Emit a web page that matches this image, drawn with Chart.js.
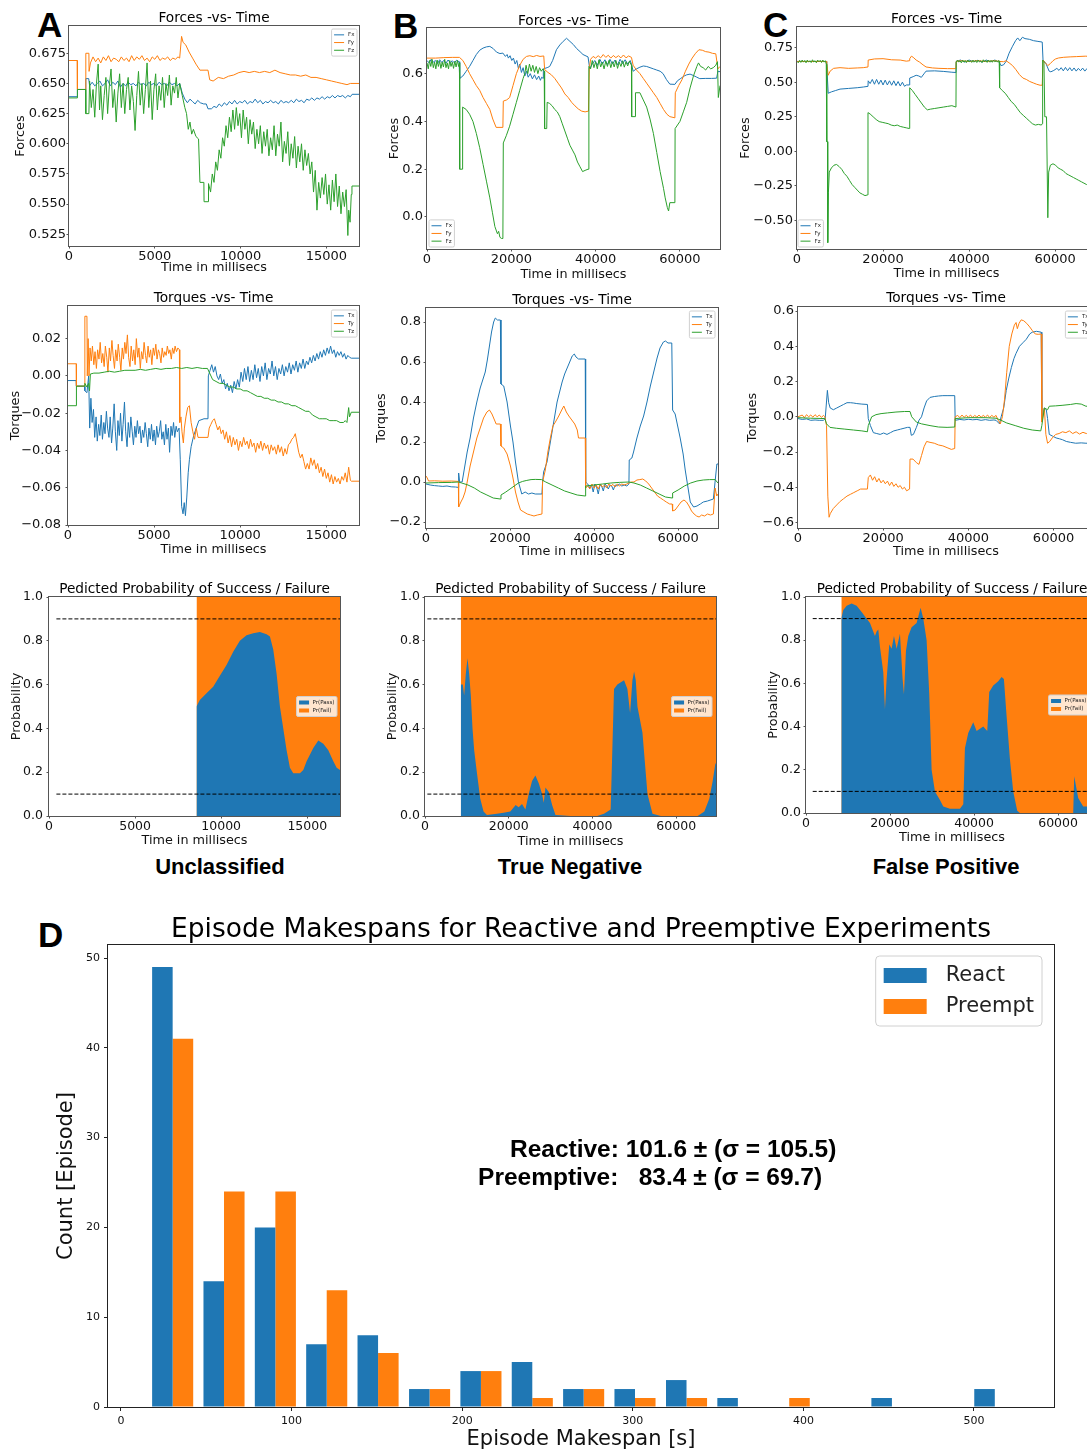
<!DOCTYPE html>
<html lang="en">
<head>
<meta charset="UTF-8">
<title>Forces, torques, predicted probability and episode makespans</title>
<script src="https://cdn.jsdelivr.net/npm/chart.js"></script>
<style>
  html, body { margin: 0; padding: 0; background: #fff; }
  body { width: 1087px; height: 1452px; position: relative; overflow: hidden; }
  canvas { position: absolute; }
  .tag { position: absolute; font-family: "Liberation Sans", Arial, sans-serif; font-weight: bold; color: #000; line-height: 1; white-space: nowrap; }
  .letter { font-size: 35px; }
  .case { font-size: 22px; width: 240px; text-align: center; }
</style>
</head>
<body>
<div class="tag letter" style="left:37px; top:7px;">A</div>
<div class="tag letter" style="left:393px; top:8px;">B</div>
<div class="tag letter" style="left:763px; top:7px;">C</div>
<div class="tag letter" style="left:38px; top:917px;">D</div>
<div class="tag case" style="left:100px; top:856px;">Unclassified</div>
<div class="tag case" style="left:450px; top:856px;">True Negative</div>
<div class="tag case" style="left:826px; top:856px;">False Positive</div>

<script>
Chart.defaults.font.family = '"DejaVu Sans", sans-serif';
Chart.defaults.color = '#000';

const BLUE = '#1f77b4', ORANGE = '#ff7f0e', GREEN = '#2ca02c';

// ---------- tick values ----------
const shortTimeTicks = [0, 5000, 10000, 15000];
const longTimeTicks = [0, 20000, 40000, 60000];
const forceTicksA = [0.525, 0.55, 0.575, 0.6, 0.625, 0.65, 0.675];
const forceTicksB = [0, 0.2, 0.4, 0.6];
const forceTicksC = [-0.5, -0.25, 0, 0.25, 0.5, 0.75];
const torqueTicksA = [-0.08, -0.06, -0.04, -0.02, 0, 0.02];
const torqueTicksB = [-0.2, 0, 0.2, 0.4, 0.6, 0.8];
const torqueTicksC = [-0.6, -0.4, -0.2, 0, 0.2, 0.4, 0.6];
const probTicks = [0, 0.2, 0.4, 0.6, 0.8, 1];
const makespanTicks = [0, 100, 200, 300, 400, 500];
const countTicks = [0, 10, 20, 30, 40, 50];

// ---------- A : forces ----------
const forcesA_Fx = [[0,0.639],[480,0.639],[490,0.645],[970,0.645],[980,0.654],[1150,0.654],[1200,0.648],[1350,0.651],[1500,0.648],[1650,0.650],[1800,0.652],[1950,0.648],[2100,0.650],[2250,0.653],[2400,0.648],[2550,0.651],[2700,0.649],[2850,0.652],[3000,0.647],[3150,0.650],[3300,0.648],[3450,0.651],[3600,0.649],[3750,0.650],[3900,0.648],[4050,0.651],[4200,0.649],[4350,0.650],[4500,0.648],[4650,0.651],[4800,0.649],[4950,0.650],[5100,0.648],[5250,0.651],[5400,0.649],[5550,0.650],[5700,0.648],[5850,0.651],[6000,0.649],[6150,0.650],[6300,0.648],[6450,0.650],[6600,0.642],[6750,0.637],[6900,0.634],[7050,0.637],[7200,0.635],[7350,0.633],[7500,0.636],[7650,0.634],[7850,0.633],[8000,0.633],[8100,0.629],[8300,0.629],[8450,0.631],[8600,0.630],[8750,0.633],[8900,0.631],[9050,0.634],[9200,0.632],[9350,0.635],[9500,0.633],[9650,0.636],[9800,0.633],[9950,0.635],[10100,0.634],[10250,0.636],[10400,0.633],[10550,0.635],[10700,0.634],[10850,0.637],[11000,0.634],[11150,0.636],[11300,0.633],[11450,0.635],[11600,0.634],[11750,0.636],[11900,0.634],[12050,0.635],[12200,0.633],[12350,0.636],[12500,0.634],[12650,0.635],[12800,0.634],[12950,0.636],[13100,0.634],[13250,0.637],[13400,0.635],[13550,0.636],[13700,0.634],[13850,0.637],[14000,0.636],[14150,0.638],[14300,0.636],[14450,0.638],[14600,0.637],[14750,0.639],[14900,0.637],[15050,0.639],[15200,0.638],[15350,0.640],[15500,0.638],[15650,0.640],[15800,0.639],[15950,0.640],[16100,0.638],[16250,0.640],[16400,0.639],[16500,0.641],[16900,0.641]];
const forcesA_Fy = [[0,0.669],[480,0.669],[490,0.645],[970,0.645],[980,0.675],[1160,0.675],[1170,0.660],[1250,0.667],[1400,0.672],[1550,0.668],[1700,0.671],[1850,0.667],[2000,0.672],[2150,0.669],[2300,0.673],[2450,0.668],[2600,0.671],[2750,0.670],[2900,0.668],[3050,0.672],[3200,0.669],[3350,0.671],[3500,0.668],[3650,0.673],[3800,0.669],[3950,0.672],[4100,0.670],[4250,0.673],[4400,0.669],[4550,0.671],[4700,0.668],[4850,0.672],[5000,0.670],[5150,0.673],[5300,0.669],[5450,0.671],[5600,0.670],[5750,0.672],[5900,0.669],[6050,0.671],[6200,0.670],[6350,0.672],[6450,0.671],[6560,0.689],[6650,0.684],[6800,0.682],[7000,0.676],[7200,0.671],[7400,0.666],[7630,0.661],[8100,0.661],[8200,0.653],[8400,0.652],[8700,0.655],[9000,0.654],[9300,0.656],[9600,0.657],[9900,0.659],[10200,0.660],[10500,0.659],[10800,0.660],[11100,0.659],[11400,0.660],[11700,0.659],[12000,0.661],[12300,0.659],[12600,0.658],[12900,0.657],[13200,0.657],[13500,0.656],[13800,0.657],[14100,0.655],[14400,0.655],[14700,0.654],[15000,0.653],[15300,0.652],[15600,0.651],[15900,0.650],[16200,0.649],[16400,0.650],[16900,0.650]];
const forcesA_Fz = [[0,0.638],[480,0.638],[490,0.645],[970,0.645],[980,0.625],[1160,0.625],[1200,0.652],[1300,0.630],[1400,0.645],[1500,0.622],[1600,0.650],[1700,0.666],[1780,0.628],[1850,0.648],[1950,0.620],[2050,0.640],[2150,0.655],[2250,0.625],[2350,0.648],[2450,0.662],[2550,0.630],[2650,0.645],[2750,0.618],[2850,0.642],[2950,0.658],[3050,0.630],[3150,0.650],[3250,0.625],[3350,0.645],[3450,0.655],[3550,0.628],[3650,0.648],[3750,0.635],[3850,0.611],[3950,0.640],[4050,0.660],[4150,0.632],[4250,0.650],[4350,0.625],[4450,0.645],[4550,0.667],[4650,0.630],[4750,0.652],[4850,0.620],[4950,0.645],[5050,0.658],[5150,0.628],[5250,0.648],[5350,0.636],[5450,0.655],[5550,0.630],[5650,0.650],[5750,0.640],[5850,0.657],[5950,0.632],[6050,0.648],[6150,0.642],[6250,0.655],[6350,0.638],[6450,0.650],[6600,0.640],[6750,0.630],[6850,0.625],[6950,0.612],[7050,0.618],[7150,0.608],[7250,0.612],[7400,0.606],[7550,0.604],[7630,0.568],[7860,0.568],[7870,0.552],[8110,0.552],[8130,0.567],[8250,0.560],[8350,0.575],[8450,0.568],[8550,0.585],[8650,0.578],[8750,0.595],[8850,0.588],[8950,0.605],[9050,0.598],[9150,0.615],[9250,0.605],[9350,0.622],[9450,0.610],[9550,0.628],[9650,0.612],[9750,0.630],[9850,0.615],[9950,0.625],[10050,0.605],[10150,0.628],[10250,0.612],[10350,0.622],[10450,0.600],[10550,0.620],[10650,0.608],[10750,0.618],[10850,0.596],[10950,0.612],[11050,0.600],[11150,0.615],[11250,0.592],[11350,0.610],[11450,0.598],[11550,0.612],[11650,0.590],[11750,0.605],[11850,0.595],[11950,0.615],[12050,0.590],[12150,0.608],[12250,0.598],[12350,0.618],[12450,0.585],[12550,0.602],[12650,0.592],[12750,0.610],[12850,0.582],[12950,0.600],[13050,0.588],[13150,0.606],[13250,0.580],[13350,0.598],[13450,0.585],[13550,0.600],[13650,0.578],[13750,0.595],[13850,0.582],[13950,0.592],[14050,0.575],[14150,0.585],[14250,0.560],[14350,0.578],[14450,0.545],[14550,0.568],[14650,0.555],[14750,0.572],[14850,0.558],[14950,0.575],[15050,0.550],[15150,0.566],[15250,0.545],[15350,0.570],[15450,0.552],[15550,0.575],[15650,0.548],[15750,0.565],[15850,0.542],[15950,0.560],[16050,0.548],[16150,0.562],[16250,0.524],[16300,0.545],[16380,0.535],[16450,0.558],[16490,0.565],[16900,0.565]];

// ---------- A : torques ----------
const torquesA_Tx = [[0,-0.0025],[480,-0.0025],[490,-0.0055],[970,-0.0055],[980,-0.008],[1100,-0.009],[1200,0.0],[1260,-0.028],[1330,-0.012],[1400,-0.025],[1480,-0.018],[1550,-0.033],[1630,-0.022],[1700,-0.035],[1780,-0.026],[1850,-0.032],[1930,-0.021],[2000,-0.034],[2080,-0.025],[2150,-0.031],[2230,-0.019],[2300,-0.028],[2380,-0.033],[2450,-0.022],[2530,-0.036],[2600,-0.028],[2680,-0.015],[2750,-0.03],[2830,-0.04],[2900,-0.024],[2980,-0.032],[3050,-0.02],[3130,-0.035],[3200,-0.026],[3280,-0.014],[3350,-0.03],[3430,-0.038],[3500,-0.025],[3580,-0.033],[3650,-0.022],[3730,-0.03],[3800,-0.037],[3880,-0.027],[3950,-0.033],[4030,-0.024],[4100,-0.031],[4180,-0.027],[4250,-0.036],[4330,-0.029],[4400,-0.033],[4480,-0.025],[4550,-0.031],[4630,-0.038],[4700,-0.028],[4780,-0.034],[4850,-0.026],[4930,-0.035],[5000,-0.029],[5080,-0.037],[5150,-0.027],[5230,-0.033],[5300,-0.03],[5380,-0.024],[5450,-0.034],[5530,-0.03],[5600,-0.037],[5680,-0.026],[5750,-0.034],[5830,-0.028],[5900,-0.041],[5980,-0.027],[6050,-0.032],[6130,-0.025],[6200,-0.033],[6280,-0.027],[6350,-0.03],[6450,-0.028],[6520,-0.045],[6600,-0.07],[6680,-0.074],[6750,-0.068],[6820,-0.075],[6900,-0.065],[6980,-0.052],[7050,-0.045],[7150,-0.038],[7300,-0.032],[7450,-0.028],[7600,-0.024],[7900,-0.023],[8130,-0.023],[8150,0.0],[8250,0.003],[8350,0.006],[8450,0.002],[8550,0.005],[8650,0.0],[8750,-0.002],[8850,0.001],[8950,-0.004],[9050,-0.002],[9150,-0.007],[9250,-0.004],[9350,-0.008],[9450,-0.005],[9550,-0.009],[9650,-0.003],[9750,-0.007],[9850,-0.002],[9950,-0.006],[10050,0.002],[10150,-0.003],[10250,0.004],[10350,-0.002],[10450,0.005],[10550,-0.003],[10650,0.003],[10750,-0.002],[10850,0.006],[10950,-0.001],[11050,0.004],[11150,-0.003],[11250,0.005],[11350,0.0],[11450,0.007],[11550,-0.002],[11650,0.004],[11750,0.001],[11850,0.008],[11950,0.0],[12050,0.005],[12150,-0.002],[12250,0.004],[12350,0.001],[12450,0.006],[12550,0.0],[12650,0.005],[12750,0.002],[12850,0.007],[12950,0.001],[13050,0.006],[13150,0.003],[13250,0.008],[13350,0.002],[13450,0.007],[13550,0.004],[13650,0.009],[13750,0.004],[13850,0.008],[13950,0.006],[14050,0.01],[14150,0.007],[14250,0.011],[14350,0.008],[14450,0.012],[14550,0.009],[14650,0.013],[14750,0.01],[14850,0.014],[14950,0.011],[15050,0.015],[15150,0.012],[15250,0.016],[15350,0.012],[15450,0.014],[15550,0.01],[15650,0.013],[15750,0.011],[15850,0.013],[15950,0.01],[16050,0.012],[16150,0.009],[16250,0.011],[16350,0.01],[16450,0.0095],[16900,0.0095]];
const torquesA_Ty = [[0,0.0065],[480,0.0065],[490,-0.0055],[970,-0.0055],[980,0.032],[1100,0.032],[1120,0.0],[1170,0.02],[1220,0.0],[1280,0.015],[1350,0.008],[1420,0.016],[1500,0.006],[1570,0.013],[1650,0.004],[1720,0.014],[1800,0.009],[1870,0.018],[1950,0.007],[2020,0.012],[2100,0.005],[2170,0.016],[2250,0.01],[2320,0.002],[2400,0.015],[2470,0.008],[2550,0.019],[2620,0.011],[2700,0.004],[2770,0.014],[2850,0.008],[2920,0.017],[3000,0.01],[3070,0.003],[3150,0.015],[3220,0.009],[3300,0.018],[3370,0.012],[3450,0.022],[3520,0.01],[3600,0.005],[3670,0.016],[3750,0.008],[3820,0.014],[3900,0.006],[3970,0.02],[4050,0.01],[4120,0.015],[4200,0.004],[4270,0.013],[4350,0.009],[4420,0.018],[4500,0.011],[4570,0.007],[4650,0.016],[4720,0.01],[4800,0.014],[4870,0.006],[4950,0.015],[5020,0.011],[5100,0.017],[5170,0.009],[5250,0.014],[5320,0.012],[5400,0.007],[5470,0.015],[5550,0.01],[5620,0.013],[5700,0.011],[5770,0.016],[5850,0.012],[5920,0.014],[6000,0.009],[6070,0.015],[6150,0.012],[6220,0.016],[6300,0.013],[6380,0.015],[6470,0.014],[6490,-0.025],[6560,-0.022],[6620,-0.03],[6700,-0.036],[6760,-0.028],[6850,-0.022],[6950,-0.017],[7050,-0.016],[7150,-0.025],[7250,-0.03],[7350,-0.034],[7450,-0.028],[7550,-0.033],[8130,-0.033],[8200,-0.028],[8300,-0.026],[8400,-0.024],[8500,-0.023],[8600,-0.026],[8700,-0.029],[8800,-0.027],[8900,-0.031],[9000,-0.029],[9100,-0.034],[9200,-0.03],[9300,-0.036],[9400,-0.032],[9500,-0.038],[9600,-0.033],[9700,-0.037],[9800,-0.034],[9900,-0.04],[10000,-0.035],[10100,-0.038],[10200,-0.033],[10300,-0.037],[10400,-0.035],[10500,-0.039],[10600,-0.034],[10700,-0.038],[10800,-0.036],[10900,-0.041],[11000,-0.036],[11100,-0.039],[11200,-0.035],[11300,-0.04],[11400,-0.036],[11500,-0.039],[11600,-0.037],[11700,-0.042],[11800,-0.037],[11900,-0.04],[12000,-0.038],[12100,-0.042],[12200,-0.037],[12300,-0.041],[12400,-0.038],[12500,-0.043],[12600,-0.039],[12700,-0.042],[12800,-0.037],[12900,-0.036],[13000,-0.034],[13100,-0.033],[13200,-0.031],[13300,-0.036],[13400,-0.041],[13500,-0.044],[13600,-0.042],[13700,-0.046],[13800,-0.05],[13900,-0.047],[14000,-0.05],[14100,-0.044],[14200,-0.048],[14300,-0.045],[14400,-0.05],[14500,-0.047],[14600,-0.052],[14700,-0.049],[14800,-0.054],[14900,-0.05],[15000,-0.055],[15100,-0.052],[15200,-0.057],[15300,-0.053],[15400,-0.058],[15500,-0.054],[15600,-0.057],[15700,-0.055],[15800,-0.058],[15900,-0.054],[16000,-0.056],[16100,-0.052],[16200,-0.057],[16300,-0.049],[16400,-0.056],[16450,-0.0565],[16900,-0.0565]];
const torquesA_Tz = [[0,-0.016],[480,-0.016],[490,-0.0055],[970,-0.0055],[980,-0.004],[1100,-0.006],[1200,-0.004],[1250,-0.008],[1300,0.001],[1500,0.0015],[1800,0.0015],[2100,0.002],[2400,0.0025],[2700,0.002],[3000,0.0025],[3300,0.003],[3600,0.003],[3900,0.003],[4200,0.0035],[4500,0.003],[4800,0.0035],[5100,0.004],[5400,0.0035],[5700,0.004],[6000,0.004],[6300,0.0045],[6600,0.004],[6900,0.0045],[7200,0.004],[7500,0.0045],[7800,0.004],[8100,0.004],[8250,0.001],[8400,-0.002],[8600,-0.003],[8800,-0.004],[9000,-0.004],[9200,-0.005],[9400,-0.006],[9600,-0.006],[9800,-0.007],[10000,-0.007],[10200,-0.008],[10400,-0.008],[10600,-0.009],[10800,-0.01],[11000,-0.011],[11200,-0.011],[11400,-0.012],[11600,-0.012],[11800,-0.013],[12000,-0.013],[12200,-0.014],[12400,-0.014],[12600,-0.015],[12800,-0.015],[13000,-0.016],[13200,-0.016],[13400,-0.017],[13600,-0.018],[13800,-0.019],[14000,-0.019],[14200,-0.021],[14400,-0.022],[14600,-0.023],[14800,-0.023],[15000,-0.023],[15200,-0.024],[15400,-0.024],[15600,-0.024],[15800,-0.025],[16000,-0.025],[16100,-0.024],[16200,-0.025],[16300,-0.017],[16350,-0.022],[16450,-0.0195],[16900,-0.0195]];

// ---------- B : forces ----------
const forcesB_Fx = [[0,0.655],[500,0.645],[1000,0.66],[1500,0.648],[2000,0.655],[2500,0.642],[3000,0.658],[3500,0.647],[4000,0.655],[4500,0.644],[5000,0.657],[5500,0.646],[6000,0.654],[6500,0.645],[7000,0.656],[7600,0.65],[7760,0.58],[8500,0.59],[9300,0.61],[10100,0.63],[10900,0.655],[11700,0.68],[12500,0.698],[13300,0.707],[14100,0.712],[14900,0.714],[15700,0.705],[16500,0.69],[17300,0.684],[18000,0.686],[18600,0.672],[19000,0.68],[19300,0.665],[19700,0.675],[20100,0.655],[20500,0.665],[20900,0.64],[21300,0.655],[21700,0.62],[22000,0.64],[22400,0.605],[22800,0.625],[23200,0.59],[23600,0.61],[24000,0.585],[24500,0.6],[25000,0.578],[25500,0.595],[26000,0.575],[26500,0.59],[26900,0.572],[27200,0.585],[27550,0.58],[27600,0.62],[28500,0.625],[29100,0.63],[29800,0.655],[30700,0.7],[31500,0.72],[32300,0.735],[33100,0.748],[33900,0.735],[34700,0.722],[35500,0.705],[36300,0.692],[37000,0.68],[38200,0.67],[38600,0.62],[39200,0.64],[39800,0.655],[40400,0.635],[41000,0.66],[41600,0.64],[42200,0.658],[42800,0.638],[43400,0.66],[44000,0.64],[44600,0.657],[45200,0.637],[45800,0.66],[46400,0.642],[47000,0.658],[47600,0.64],[48200,0.655],[48500,0.64],[48900,0.61],[49700,0.62],[50500,0.627],[51300,0.632],[52100,0.63],[52900,0.625],[53700,0.62],[54500,0.615],[55300,0.61],[56000,0.6],[56800,0.575],[57600,0.556],[58800,0.555],[59400,0.57],[60200,0.58],[61000,0.59],[61600,0.595],[62400,0.598],[63200,0.592],[64000,0.585],[64700,0.579],[66000,0.58],[67500,0.58],[68700,0.581],[69000,0.61],[69500,0.608]];
const forcesB_Fy = [[0,0.665],[2000,0.665],[4000,0.667],[6000,0.668],[7700,0.668],[8500,0.655],[9300,0.63],[10100,0.6],[10900,0.575],[11700,0.55],[12500,0.53],[13300,0.5],[14100,0.475],[14900,0.45],[15600,0.41],[16400,0.375],[18000,0.375],[18100,0.485],[18900,0.49],[19600,0.5],[20400,0.55],[21200,0.6],[22000,0.635],[22800,0.66],[23600,0.672],[24400,0.675],[25200,0.671],[26000,0.676],[26800,0.672],[27700,0.674],[27900,0.617],[28700,0.605],[29500,0.595],[30300,0.58],[31100,0.56],[31900,0.54],[32700,0.515],[33500,0.5],[34300,0.48],[35100,0.465],[35900,0.452],[36700,0.443],[37500,0.44],[38300,0.443],[38500,0.62],[38800,0.66],[39400,0.672],[40000,0.665],[40600,0.675],[41200,0.666],[41800,0.68],[42400,0.668],[43000,0.677],[43600,0.665],[44200,0.676],[44800,0.667],[45400,0.675],[46000,0.666],[46600,0.678],[47200,0.666],[47800,0.674],[48500,0.668],[48900,0.635],[49700,0.615],[50500,0.6],[51300,0.58],[52100,0.56],[52900,0.54],[53700,0.52],[54500,0.5],[55300,0.475],[56100,0.45],[56900,0.43],[57600,0.42],[58800,0.415],[58900,0.52],[59700,0.55],[60500,0.575],[61300,0.61],[62100,0.64],[62900,0.665],[63700,0.685],[64500,0.7],[65300,0.698],[66100,0.692],[66900,0.69],[67700,0.685],[68500,0.683],[69000,0.62],[69500,0.63]];
const forcesB_Fz = [[0,0.645],[300,0.62],[600,0.655],[900,0.63],[1200,0.66],[1500,0.625],[1800,0.648],[2100,0.62],[2400,0.657],[2700,0.63],[3000,0.652],[3300,0.622],[3600,0.648],[3900,0.628],[4200,0.66],[4500,0.625],[4800,0.645],[5100,0.62],[5400,0.655],[5700,0.63],[6000,0.648],[6300,0.622],[6600,0.652],[6900,0.628],[7200,0.655],[7500,0.63],[7700,0.645],[7760,0.2],[8380,0.2],[8450,0.46],[9300,0.45],[10100,0.43],[10900,0.4],[11700,0.35],[12500,0.29],[13300,0.22],[14100,0.15],[14900,0.08],[15500,0.02],[16100,-0.04],[16700,-0.07],[17000,-0.06],[17300,-0.085],[17700,-0.09],[18000,-0.09],[18100,0.31],[18800,0.34],[19600,0.38],[20400,0.43],[21200,0.48],[22000,0.53],[22800,0.58],[23200,0.6],[23500,0.635],[23900,0.6],[24300,0.64],[24700,0.61],[25100,0.635],[25500,0.605],[25900,0.63],[26300,0.6],[26700,0.625],[27100,0.61],[27500,0.62],[27800,0.61],[27900,0.37],[28400,0.37],[28500,0.48],[29100,0.475],[29700,0.465],[30300,0.45],[30900,0.44],[31500,0.42],[32100,0.39],[32700,0.36],[33300,0.33],[33900,0.3],[34500,0.28],[35100,0.26],[35700,0.23],[36300,0.21],[36900,0.19],[37500,0.195],[38200,0.2],[38400,0.63],[38800,0.62],[39200,0.655],[39600,0.625],[40000,0.65],[40400,0.62],[40800,0.658],[41200,0.628],[41600,0.648],[42000,0.62],[42400,0.652],[42800,0.63],[43200,0.656],[43600,0.625],[44000,0.65],[44400,0.628],[44800,0.655],[45200,0.622],[45600,0.648],[46000,0.63],[46400,0.654],[46800,0.627],[47200,0.65],[47600,0.632],[48000,0.652],[48500,0.635],[48550,0.42],[49400,0.42],[49450,0.52],[50500,0.52],[51300,0.49],[52100,0.46],[52900,0.41],[53700,0.35],[54500,0.27],[55300,0.19],[56100,0.12],[56500,0.08],[57000,0.04],[57300,0.025],[57600,0.06],[58800,0.06],[58850,0.37],[60000,0.4],[60800,0.44],[61600,0.48],[62400,0.54],[63200,0.59],[64000,0.63],[64400,0.645],[64900,0.63],[65500,0.625],[66100,0.615],[66700,0.63],[67300,0.62],[67900,0.625],[68500,0.635],[68900,0.65],[69100,0.5],[69500,0.55]];

// ---------- B : torques ----------
const torquesB_Tx = [[0,-0.01],[1000,-0.015],[2000,-0.018],[3000,-0.02],[4000,-0.022],[5000,-0.02],[6000,-0.024],[7000,-0.025],[7700,-0.027],[7770,0.045],[8000,0.0],[8600,0.0],[9000,0.05],[9800,0.15],[10500,0.22],[11300,0.32],[12100,0.4],[12900,0.47],[13500,0.51],[14100,0.55],[14600,0.61],[15100,0.68],[15600,0.75],[16100,0.8],[16500,0.82],[17000,0.81],[17700,0.81],[17850,0.49],[18500,0.48],[19300,0.4],[20100,0.28],[20700,0.2],[21300,0.1],[22000,0.0],[22800,-0.06],[23600,-0.05],[24400,-0.06],[25200,-0.055],[26000,-0.06],[27600,-0.06],[27750,0.0],[28000,0.05],[28800,0.1],[29600,0.2],[30400,0.3],[31200,0.4],[31800,0.45],[32400,0.5],[33000,0.54],[33600,0.57],[34200,0.6],[34800,0.63],[35300,0.64],[35700,0.625],[36300,0.615],[37900,0.615],[38000,0.0],[38500,-0.01],[39000,-0.03],[39400,-0.015],[39800,-0.05],[40200,-0.01],[40600,-0.025],[41000,-0.06],[41400,-0.015],[41800,-0.02],[42200,-0.045],[42600,-0.01],[43000,-0.02],[43400,-0.035],[43800,-0.015],[44200,-0.02],[44600,-0.04],[45000,-0.015],[45500,-0.02],[46000,-0.01],[46600,-0.02],[47200,-0.015],[47800,-0.02],[48300,-0.01],[48370,0.11],[49000,0.12],[49400,0.15],[50200,0.22],[51000,0.28],[51800,0.33],[52600,0.4],[53400,0.48],[54200,0.55],[55000,0.62],[55700,0.67],[56500,0.7],[57000,0.705],[57600,0.695],[58500,0.695],[58700,0.36],[59300,0.34],[60000,0.27],[60500,0.22],[61200,0.14],[61700,0.06],[62300,-0.02],[62900,-0.1],[63700,-0.125],[64500,-0.12],[65300,-0.11],[66000,-0.1],[67000,-0.095],[68400,-0.085],[68800,0.0],[69230,0.09],[69500,0.09]];
const torquesB_Ty = [[0,0.03],[300,0.02],[600,0.005],[2000,0.006],[4000,0.004],[6000,0.005],[7700,0.003],[7770,-0.125],[8300,-0.1],[8800,-0.08],[9300,-0.05],[9800,0.0],[10500,0.08],[11300,0.15],[12100,0.22],[12900,0.27],[13700,0.32],[14500,0.35],[15100,0.36],[15700,0.34],[16300,0.31],[16700,0.29],[17700,0.29],[17850,0.18],[18500,0.17],[19300,0.14],[20100,0.08],[20700,0.02],[21300,-0.05],[21900,-0.1],[22500,-0.14],[23300,-0.15],[24100,-0.16],[24900,-0.165],[25700,-0.17],[26500,-0.165],[27600,-0.16],[27750,0.0],[28400,0.06],[29000,0.15],[29600,0.22],[30200,0.28],[30800,0.3],[31600,0.33],[32300,0.36],[32800,0.38],[33400,0.35],[34000,0.33],[34700,0.31],[35400,0.29],[36000,0.26],[36300,0.22],[37900,0.22],[38000,-0.03],[38500,-0.02],[39000,-0.035],[39500,-0.01],[40000,-0.03],[40500,-0.015],[41000,-0.035],[41500,-0.01],[42000,-0.025],[42500,-0.015],[43000,-0.03],[43500,-0.01],[44000,-0.02],[44500,-0.012],[45000,-0.025],[45500,-0.01],[46000,-0.02],[46600,-0.01],[47200,-0.015],[47800,-0.01],[48300,-0.005],[48900,0.0],[49500,0.0],[50200,0.01],[50900,0.012],[51600,0.015],[52300,0.005],[53000,-0.01],[53700,-0.03],[54400,-0.05],[55100,-0.07],[55800,-0.08],[56500,-0.09],[57200,-0.1],[58000,-0.11],[58600,-0.11],[58700,-0.145],[59300,-0.14],[60000,-0.12],[60700,-0.1],[61400,-0.09],[62000,-0.1],[62600,-0.12],[63200,-0.145],[63800,-0.16],[64400,-0.17],[65000,-0.175],[65600,-0.165],[66300,-0.17],[67000,-0.16],[67700,-0.165],[68400,-0.16],[68800,-0.03],[69200,-0.07],[69500,-0.06]];
const torquesB_Tz = [[0,-0.005],[3000,-0.003],[6000,-0.002],[7700,0.0],[8500,-0.005],[10000,-0.015],[11500,-0.03],[13000,-0.05],[14500,-0.065],[16000,-0.08],[17700,-0.085],[17850,-0.065],[19000,-0.05],[20000,-0.035],[21000,-0.02],[22000,-0.005],[23000,0.003],[24000,0.008],[25000,0.012],[26000,0.013],[27500,0.012],[28500,0.0],[30000,-0.015],[31500,-0.03],[33000,-0.045],[34500,-0.055],[36000,-0.065],[37900,-0.07],[38000,-0.02],[40000,-0.015],[42000,-0.01],[44000,-0.005],[46000,-0.002],[48300,0.0],[49500,-0.005],[51000,-0.015],[52500,-0.03],[54000,-0.045],[55500,-0.06],[57000,-0.075],[58600,-0.08],[58700,-0.055],[60000,-0.04],[61500,-0.02],[63000,-0.005],[64500,0.005],[66000,0.01],[67500,0.012],[68800,0.012],[69500,-0.005]];

// ---------- C : forces ----------
const forcesC_Fx = [[0,0.65],[6800,0.65],[6900,0.63],[7250,0.42],[8000,0.43],[9000,0.44],[10000,0.45],[12000,0.455],[14000,0.46],[15400,0.465],[16500,0.47],[16550,0.51],[17000,0.49],[17500,0.52],[18000,0.485],[18500,0.52],[19000,0.485],[19500,0.515],[20000,0.48],[20500,0.515],[21000,0.48],[21500,0.51],[22000,0.478],[22500,0.51],[23000,0.475],[23500,0.505],[24000,0.472],[24500,0.5],[25000,0.47],[25400,0.48],[26150,0.48],[26200,0.53],[27000,0.54],[27700,0.55],[28300,0.545],[28900,0.535],[29500,0.56],[30000,0.58],[32000,0.582],[34000,0.578],[36000,0.572],[36950,0.57],[37000,0.65],[38000,0.66],[39000,0.645],[40000,0.66],[41000,0.648],[42000,0.658],[43000,0.645],[44000,0.66],[45000,0.648],[46000,0.66],[47000,0.645],[47400,0.62],[48000,0.625],[48600,0.65],[49300,0.71],[50100,0.76],[50800,0.8],[51300,0.82],[51800,0.8],[52400,0.825],[53000,0.815],[54000,0.81],[55000,0.8],[56000,0.795],[57000,0.79],[57200,0.65],[57800,0.64],[58600,0.58],[59000,0.575],[59700,0.585],[60400,0.6],[60900,0.585],[61400,0.605],[61900,0.582],[62400,0.607],[62900,0.583],[63400,0.605],[63900,0.582],[64400,0.603],[64900,0.58],[65400,0.6],[65900,0.583],[66400,0.602],[66900,0.58],[67400,0.598],[67900,0.582],[68400,0.597],[69000,0.585],[69500,0.59]];
const forcesC_Fy = [[0,0.65],[6800,0.65],[6900,0.64],[7250,0.55],[7700,0.58],[8500,0.6],[10000,0.605],[12000,0.6],[14000,0.603],[15400,0.605],[16500,0.61],[16550,0.66],[18000,0.668],[20000,0.67],[22000,0.662],[24000,0.66],[25400,0.652],[26150,0.655],[26200,0.67],[26600,0.688],[27000,0.68],[27700,0.66],[28500,0.645],[29300,0.625],[30000,0.61],[31500,0.603],[33000,0.6],[35000,0.598],[36950,0.598],[37000,0.65],[38000,0.655],[40000,0.65],[42000,0.655],[44000,0.65],[46000,0.655],[47000,0.65],[48000,0.648],[48600,0.655],[49300,0.64],[50100,0.62],[50900,0.59],[51700,0.555],[52500,0.53],[53300,0.52],[54100,0.505],[54900,0.495],[55700,0.485],[56500,0.478],[57000,0.478],[57200,0.66],[57700,0.64],[58300,0.62],[58900,0.635],[59500,0.655],[60100,0.668],[60800,0.675],[62000,0.68],[63500,0.683],[65000,0.685],[67000,0.688],[69500,0.685]];
const forcesC_Fz = [[0,0.65],[300,0.64],[600,0.658],[900,0.643],[1200,0.66],[1500,0.645],[1800,0.657],[2100,0.64],[2400,0.66],[2700,0.645],[3000,0.655],[3300,0.642],[3600,0.662],[3900,0.646],[4200,0.655],[4500,0.64],[4800,0.66],[5100,0.648],[5400,0.658],[5700,0.642],[6000,0.66],[6300,0.645],[6600,0.655],[6800,0.63],[6900,0.55],[6950,0.07],[7100,0.07],[7150,-0.66],[7300,-0.3],[7500,-0.15],[8000,-0.12],[8600,-0.1],[9200,-0.095],[9800,-0.11],[10400,-0.13],[11000,-0.16],[11600,-0.18],[12200,-0.21],[12800,-0.24],[13400,-0.26],[14000,-0.28],[14600,-0.3],[15200,-0.31],[15800,-0.32],[16400,-0.315],[16500,0.28],[17000,0.27],[17700,0.25],[18400,0.23],[19100,0.215],[19800,0.21],[20500,0.205],[21200,0.2],[21900,0.19],[22600,0.185],[23300,0.19],[24000,0.18],[24700,0.175],[25400,0.17],[26100,0.165],[26200,0.46],[26800,0.44],[27500,0.41],[28200,0.38],[28900,0.35],[29600,0.32],[30300,0.3],[31000,0.305],[32000,0.31],[33000,0.315],[34000,0.32],[35000,0.325],[36000,0.33],[36950,0.32],[37000,0.645],[37300,0.66],[37600,0.645],[37900,0.655],[38200,0.64],[38500,0.66],[38800,0.645],[39100,0.657],[39400,0.642],[39700,0.66],[40000,0.646],[40300,0.655],[40600,0.643],[40900,0.66],[41200,0.645],[41500,0.657],[41800,0.642],[42100,0.66],[42400,0.646],[42700,0.655],[43000,0.642],[43300,0.662],[43600,0.646],[43900,0.657],[44200,0.643],[44500,0.66],[44800,0.645],[45100,0.658],[45400,0.644],[45700,0.66],[46000,0.647],[46300,0.655],[46600,0.645],[46900,0.658],[47000,0.65],[47100,0.46],[47700,0.44],[48400,0.42],[49100,0.39],[49800,0.36],[50500,0.34],[51200,0.31],[51900,0.28],[52600,0.26],[53300,0.24],[54000,0.22],[54700,0.2],[55400,0.19],[56100,0.195],[56800,0.19],[57000,0.2],[57100,0.66],[57400,0.65],[57600,0.25],[58000,0.25],[58300,-0.48],[58500,-0.15],[58900,-0.1],[59500,-0.09],[60100,-0.1],[60700,-0.12],[61300,-0.13],[61900,-0.14],[62500,-0.16],[63100,-0.17],[63700,-0.18],[64300,-0.19],[64900,-0.2],[65500,-0.21],[66100,-0.22],[66700,-0.23],[67300,-0.24],[67900,-0.245],[68500,-0.25],[69500,-0.26]];

// ---------- C : torques ----------
const torquesC_Tx = [[0,-0.01],[1000,-0.015],[2000,-0.012],[3000,-0.02],[4000,-0.018],[5000,-0.02],[6000,-0.02],[6390,-0.01],[6900,0.15],[7200,0.08],[7560,0.05],[8300,0.04],[9100,0.05],[9900,0.06],[10700,0.07],[11500,0.08],[12300,0.08],[13100,0.078],[13800,0.075],[15000,0.072],[16300,0.07],[16500,-0.01],[17000,-0.05],[17700,-0.09],[18500,-0.095],[19300,-0.1],[20100,-0.092],[20900,-0.1],[21700,-0.09],[22500,-0.08],[23300,-0.075],[24100,-0.07],[24900,-0.065],[25700,-0.06],[26300,-0.06],[26600,-0.105],[27100,-0.1],[27800,-0.06],[28400,-0.02],[29000,0.0],[29600,0.05],[30200,0.09],[31000,0.11],[32000,0.115],[33000,0.118],[34000,0.12],[35000,0.12],[36800,0.12],[36900,-0.02],[38000,-0.015],[39000,-0.018],[40000,-0.014],[41000,-0.017],[42000,-0.015],[43000,-0.02],[44000,-0.016],[45000,-0.02],[46000,-0.018],[46500,-0.02],[47300,-0.04],[47700,0.0],[48300,0.05],[48900,0.15],[49500,0.22],[50100,0.28],[50700,0.33],[51200,0.36],[52000,0.4],[52800,0.42],[53600,0.44],[54400,0.47],[55000,0.48],[56000,0.485],[57100,0.48],[57250,-0.01],[57850,0.05],[58300,0.04],[58600,-0.01],[59000,-0.1],[59800,-0.11],[60600,-0.12],[61400,-0.125],[62100,-0.13],[63000,-0.14],[64000,-0.145],[65200,-0.15],[66500,-0.148],[67600,-0.15],[69500,-0.15]];
const torquesC_Ty = [[0,0.0],[1000,0.01],[1500,-0.005],[2000,0.012],[2500,0.0],[3000,0.01],[3500,-0.002],[4000,0.012],[4500,0.0],[5000,0.01],[5500,-0.003],[6000,0.008],[6300,0.0],[6700,-0.05],[7000,-0.45],[7300,-0.57],[7560,-0.55],[8300,-0.52],[9100,-0.5],[9900,-0.48],[10700,-0.465],[11500,-0.45],[12300,-0.44],[13100,-0.43],[13900,-0.42],[14700,-0.41],[15500,-0.41],[16300,-0.41],[16500,-0.345],[17000,-0.33],[17500,-0.36],[18000,-0.34],[18500,-0.37],[19000,-0.35],[19500,-0.375],[20000,-0.36],[20500,-0.38],[21000,-0.365],[21500,-0.39],[22000,-0.37],[22500,-0.395],[23000,-0.38],[23500,-0.4],[24000,-0.39],[24500,-0.41],[25000,-0.4],[25500,-0.42],[26200,-0.41],[26300,-0.24],[27000,-0.24],[27800,-0.26],[28400,-0.27],[29000,-0.22],[29600,-0.17],[30200,-0.14],[31000,-0.145],[32000,-0.15],[33000,-0.16],[34000,-0.165],[35000,-0.175],[36000,-0.185],[36800,-0.18],[36900,0.0],[37500,0.008],[38000,-0.005],[38500,0.01],[39000,-0.003],[39500,0.008],[40000,-0.002],[40500,0.01],[41000,-0.004],[41500,0.008],[42000,-0.002],[42500,0.01],[43000,-0.003],[43500,0.008],[44000,-0.002],[44500,0.01],[45000,-0.004],[45500,0.008],[46000,-0.002],[46500,0.008],[47000,-0.02],[47500,-0.04],[48000,0.0],[48500,0.1],[49000,0.25],[49600,0.4],[50200,0.47],[50800,0.52],[51200,0.535],[51500,0.5],[51900,0.53],[52400,0.55],[53000,0.545],[53700,0.53],[54400,0.51],[55000,0.49],[55700,0.47],[56400,0.468],[57100,0.47],[57250,-0.03],[57600,0.02],[57850,0.05],[58200,-0.1],[58600,-0.15],[59100,-0.14],[59700,-0.12],[60500,-0.1],[61300,-0.095],[62100,-0.085],[62900,-0.09],[63700,-0.08],[64500,-0.095],[65300,-0.085],[66100,-0.098],[66900,-0.088],[67700,-0.095],[68500,-0.09],[69500,-0.095]];
const torquesC_Tz = [[0,-0.005],[3000,-0.008],[6300,-0.01],[6700,-0.04],[7500,-0.06],[9000,-0.065],[11000,-0.07],[13000,-0.075],[15000,-0.08],[16300,-0.085],[16500,-0.05],[17300,0.0],[18300,0.012],[19500,0.018],[21000,0.022],[23000,0.027],[25000,0.03],[26300,0.03],[26700,0.0],[27800,-0.03],[29000,-0.04],[31000,-0.05],[33000,-0.058],[35000,-0.06],[36800,-0.058],[36900,-0.01],[40000,-0.005],[44000,-0.005],[46500,-0.008],[47700,-0.02],[49000,-0.035],[51000,-0.05],[53000,-0.065],[55000,-0.075],[57000,-0.08],[57250,-0.05],[57850,0.05],[58600,0.04],[59000,0.06],[60500,0.062],[62000,0.065],[64000,0.07],[65300,0.075],[66500,0.072],[67600,0.06],[69500,0.06]];

// ---------- predicted Pr(Pass) ----------
const probA_pass = [[8566,0.5],[8760,0.53],[9147,0.56],[9535,0.59],[9923,0.64],[10310,0.69],[10698,0.75],[11085,0.80],[11473,0.825],[11861,0.835],[12248,0.84],[12636,0.83],[12830,0.82],[13023,0.76],[13217,0.65],[13411,0.50],[13605,0.40],[13799,0.30],[13992,0.22],[14186,0.195],[14574,0.195],[14768,0.21],[14961,0.25],[15349,0.31],[15640,0.345],[15930,0.33],[16221,0.30],[16512,0.25],[16706,0.22],[16900,0.21]];
const probB_pass = [[8549,0.6],[9028,0.6],[9348,0.55],[9748,0.65],[10147,0.72],[10547,0.65],[10946,0.55],[11346,0.40],[11745,0.30],[12385,0.2],[13184,0.08],[13983,0.02],[14782,0.005],[17179,0.01],[18777,0.015],[20375,0.02],[21653,0.05],[22372,0.04],[23171,0.055],[23970,0.03],[24769,0.10],[25568,0.16],[26367,0.185],[27166,0.15],[27965,0.10],[28365,0.06],[28764,0.13],[29563,0.11],[30362,0.05],[31161,0.005],[34757,0.0],[41148,0.0],[42746,0.01],[44345,0.03],[45144,0.58],[45943,0.60],[47541,0.62],[48340,0.58],[48979,0.47],[49538,0.62],[49938,0.66],[50337,0.62],[50737,0.50],[51935,0.38],[53134,0.10],[54332,0.01],[56330,0.0],[65118,0.0],[66716,0.02],[67914,0.08],[68713,0.16],[69352,0.24],[69500,0.24]];
const probC_pass = [[8406,0.90],[8882,0.94],[9675,0.96],[10864,0.97],[12054,0.96],[13243,0.93],[14036,0.91],[15226,0.88],[16415,0.82],[16812,0.84],[17208,0.85],[17605,0.77],[18398,0.65],[18794,0.48],[19191,0.62],[19825,0.78],[20380,0.76],[20936,0.82],[21570,0.76],[22363,0.83],[22997,0.62],[23315,0.55],[23790,0.75],[24345,0.82],[25138,0.86],[26328,0.88],[27279,0.95],[27914,0.90],[28707,0.80],[29341,0.55],[29896,0.20],[30689,0.10],[31879,0.06],[32672,0.03],[34258,0.02],[36637,0.02],[37430,0.04],[37826,0.30],[38619,0.37],[39809,0.42],[40602,0.38],[42188,0.40],[43139,0.38],[43615,0.56],[44567,0.59],[45756,0.61],[46549,0.63],[47104,0.62],[47739,0.45],[48532,0.25],[49325,0.10],[50276,0.01],[50911,0.0],[63599,0.0],[63837,0.17],[64788,0.07],[65978,0.03],[66771,0.03],[69500,0.02]];
const probThresholds = [0.9, 0.1];

// ---------- D : makespan histogram ----------
const binCenters = [30.3, 60.4, 90.5, 120.6, 150.7, 180.9, 211.0, 241.1, 271.2, 301.3, 331.5, 361.6, 391.7, 421.8, 451.9, 482.1, 512.2];
const reactCounts = [49, 14, 20, 7, 8, 2, 4, 5, 2, 2, 3, 1, 0, 0, 1, 0, 2];
const preemptCounts = [41, 24, 24, 13, 6, 2, 4, 1, 2, 1, 1, 0, 1, 0, 0, 0, 0];

// ---------- helpers ----------
const decorCfg = new WeakMap();
const pts = arr => arr.map(p => ({ x: p[0], y: p[1] }));
const fmt = (v, d) => v.toFixed(d).replace('-', '\u2212');

function drawLegend(ctx, a, g) {
  ctx.font = g.size + 'px "DejaVu Sans"';
  const tw = Math.max(...g.items.map(it => ctx.measureText(it.label).width));
  const w = g.padX * 2 + g.hLen + g.gap + tw;
  const h = g.padY * 2 + g.rowH * g.items.length;
  let x, y;
  if (g.anchor === 'ur') { x = a.right - g.inset[0] - w; y = a.top + g.inset[1]; }
  else if (g.anchor === 'll') { x = a.left + g.inset[0]; y = a.bottom - g.inset[1] - h; }
  else { x = a.right - g.inset[0] - w; y = (a.top + a.bottom) / 2 - h / 2; }
  ctx.fillStyle = 'rgba(255,255,255,0.8)';
  ctx.strokeStyle = '#d0d0d0';
  ctx.lineWidth = 1;
  ctx.beginPath();
  ctx.roundRect(x, y, w, h, g.radius);
  ctx.fill();
  ctx.stroke();
  g.items.forEach((it, i) => {
    const cy = y + g.padY + g.rowH * (i + 0.5);
    const hx = x + g.padX;
    if (it.patch) {
      ctx.fillStyle = it.color;
      ctx.fillRect(hx, cy - g.patchH / 2, g.hLen, g.patchH);
    } else {
      ctx.strokeStyle = it.color;
      ctx.lineWidth = 1;
      ctx.beginPath(); ctx.moveTo(hx, cy); ctx.lineTo(hx + g.hLen, cy); ctx.stroke();
    }
    ctx.fillStyle = '#222';
    ctx.textAlign = 'left';
    ctx.textBaseline = 'middle';
    ctx.fillText(it.label, hx + g.hLen + g.gap, cy);
  });
}

// frame, title, notes and legend drawn matplotlib-style
Chart.register({
  id: 'decor',
  afterDatasetsDraw(chart) {
    const o = decorCfg.get(chart.canvas);
    if (!o) return;
    const a = chart.chartArea, ctx = chart.ctx;
    ctx.save();
    ctx.strokeStyle = o.frameColor;
    ctx.lineWidth = 1;
    ctx.strokeRect(Math.round(a.left) - 0.5, Math.round(a.top) - 0.5, Math.round(a.right - a.left) + 1, Math.round(a.bottom - a.top) + 1);
    ctx.restore();
  },
  afterDraw(chart) {
    const o = decorCfg.get(chart.canvas);
    if (!o) return;
    const a = chart.chartArea, ctx = chart.ctx;
    ctx.save();
    ctx.fillStyle = '#000';
    ctx.textAlign = 'center';
    ctx.textBaseline = 'middle';
    ctx.font = o.titleSize + 'px "DejaVu Sans"';
    ctx.fillText(o.title, (a.left + a.right) / 2, a.top - o.titleGap);
    (o.notes || []).forEach(n => {
      ctx.font = n.f;
      ctx.textAlign = 'left';
      ctx.fillText(n.text, chart.scales.x.getPixelForValue(n.x), chart.scales.y.getPixelForValue(n.y));
    });
    if (o.legend) drawLegend(ctx, a, o.legend);
    ctx.restore();
  }
});

function addCanvas(left, top, width, height) {
  const c = document.createElement('canvas');
  c.width = width; c.height = height;
  c.style.left = left + 'px'; c.style.top = top + 'px';
  c.style.width = width + 'px'; c.style.height = height + 'px';
  document.body.appendChild(c);
  return c;
}

const smallLegend = (anchor, inset, labels) => ({
  anchor, inset, size: 5.5, hLen: 10, gap: 4, padX: 2.5, padY: 2, rowH: 7.7, patchH: 4, radius: 1.5,
  items: labels.map((l, i) => ({ label: l, color: [BLUE, ORANGE, GREEN][i] }))
});
const probLegend = inset => ({
  anchor: 'cr', inset, size: 5.5, hLen: 10, gap: 3.5, padX: 2.5, padY: 2, rowH: 8, patchH: 4, radius: 1.5,
  items: [{ label: 'Pr(Pass)', color: BLUE, patch: true }, { label: 'Pr(Fail)', color: ORANGE, patch: true }]
});

function panel(p) {
  const [L, T, R, B] = p.plot;
  const left = L - 68, top = T - 28, right = R + 12, bottom = B + 36;
  const canvas = addCanvas(left, top, right - left, bottom - top);
  const lh = 12.8 * 1.2;
  decorCfg.set(canvas, { frameColor: '#555', title: p.title, titleSize: 13.7, titleGap: p.titleGap, legend: p.legend });
  new Chart(canvas, {
    type: 'line',
    data: { datasets: p.datasets },
    options: {
      responsive: false, animation: false, devicePixelRatio: 1,
      layout: { padding: { left: 0, top: T - top, right: right - R, bottom: 0 } },
      elements: { point: { radius: 0 }, line: { borderWidth: 1, tension: 0 } },
      plugins: { legend: { display: false }, tooltip: { enabled: false } },
      scales: {
        x: {
          type: 'linear', min: 0, max: p.xMax, bounds: 'data',
          afterBuildTicks: s => { s.ticks = p.xTicks.map(v => ({ value: v })); },
          afterFit: s => { s.height = bottom - B; },
          ticks: { autoSkip: false, maxRotation: 0, minRotation: 0, padding: 0.5, font: { size: p.tickSize }, color: '#111', callback: v => String(v) },
          grid: { drawOnChartArea: false, drawTicks: true, tickLength: 2.5, color: '#555' }, border: { display: false },
          title: { display: true, text: 'Time in millisecs', font: { size: 12.8 }, color: '#111', padding: { top: 0, bottom: Math.max(0, bottom - p.xTitleY - lh / 2) } }
        },
        y: {
          type: 'linear', min: p.yRange[0], max: p.yRange[1], bounds: 'data',
          afterBuildTicks: s => { s.ticks = p.yTicks.map(v => ({ value: v })); },
          afterFit: s => { s.width = L - left; },
          ticks: { autoSkip: false, padding: Math.max(0.5, p.yPad - 2.5), font: { size: p.tickSize }, color: '#111', callback: v => fmt(v, p.digits) },
          grid: { drawOnChartArea: false, drawTicks: true, tickLength: 2.5, color: '#555' }, border: { display: false },
          title: { display: true, text: p.yTitle, font: { size: 12.8 }, color: '#111', padding: { top: Math.max(0, p.yTitleX - left - lh / 2), bottom: 0 } }
        }
      }
    }
  });
}

const lineSets = (a, b, c, names) => [
  { label: names[0], data: pts(a), borderColor: BLUE, order: 3 },
  { label: names[1], data: pts(b), borderColor: ORANGE, order: 2 },
  { label: names[2], data: pts(c), borderColor: GREEN, order: 1 }
];
const probSets = (pass, xStart, xEnd, dashStart) => [
  ...probThresholds.map(t => ({ data: [{ x: dashStart, y: t }, { x: xEnd, y: t }], borderColor: '#000', borderWidth: 1, borderDash: [4, 2], order: 0 })),
  { label: 'Pr(Pass)', data: pts(pass), fill: 'origin', backgroundColor: BLUE, borderWidth: 0, order: 1 },
  { label: 'Pr(Fail)', data: [{ x: xStart, y: 1 }, { x: xEnd, y: 1 }], fill: 'origin', backgroundColor: ORANGE, borderWidth: 0, order: 2 }
];
const F = ['Fx', 'Fy', 'Fz'], TQ = ['Tx', 'Ty', 'Tz'];

// row 1 : forces
panel({ plot: [69, 26, 359, 246], xMax: 16900, xTicks: shortTimeTicks, yRange: [0.5153, 0.6976], yTicks: forceTicksA, digits: 3,
  title: 'Forces -vs- Time', titleGap: 7.5, yTitle: 'Forces', yTitleX: 20.5, xTitleY: 268, yPad: 3, tickSize: 13,
  legend: smallLegend('ur', [2, 3], F), datasets: lineSets(forcesA_Fx, forcesA_Fy, forcesA_Fz, F) });
panel({ plot: [427, 28, 720, 249], xMax: 69500, xTicks: longTimeTicks, yRange: [-0.134, 0.791], yTicks: forceTicksB, digits: 1,
  title: 'Forces -vs- Time', titleGap: 6.5, yTitle: 'Forces', yTitleX: 395, xTitleY: 275, yPad: 4, tickSize: 13,
  legend: smallLegend('ll', [2, 2], F), datasets: lineSets(forcesB_Fx, forcesB_Fy, forcesB_Fz, F) });
panel({ plot: [797, 27, 1096, 249], xMax: 69500, xTicks: longTimeTicks, yRange: [-0.706, 0.899], yTicks: forceTicksC, digits: 2,
  title: 'Forces -vs- Time', titleGap: 7.5, yTitle: 'Forces', yTitleX: 745.5, xTitleY: 274, yPad: 4, tickSize: 13,
  legend: smallLegend('ll', [1, 2], F), datasets: lineSets(forcesC_Fx, forcesC_Fy, forcesC_Fz, F) });

// row 2 : torques
panel({ plot: [68, 306, 359, 525], xMax: 16900, xTicks: shortTimeTicks, yRange: [-0.08, 0.0375], yTicks: torqueTicksA, digits: 2,
  title: 'Torques -vs- Time', titleGap: 7.5, yTitle: 'Torques', yTitleX: 15.5, xTitleY: 550, yPad: 7, tickSize: 13,
  legend: smallLegend('ur', [2, 4], TQ), datasets: lineSets(torquesA_Tx, torquesA_Ty, torquesA_Tz, TQ) });
panel({ plot: [426, 308, 718, 528], xMax: 69500, xTicks: longTimeTicks, yRange: [-0.23, 0.87], yTicks: torqueTicksB, digits: 1,
  title: 'Torques -vs- Time', titleGap: 7.5, yTitle: 'Torques', yTitleX: 382, xTitleY: 552, yPad: 5, tickSize: 13,
  legend: smallLegend('ur', [3, 3], TQ), datasets: lineSets(torquesB_Tx, torquesB_Ty, torquesB_Tz, TQ) });
panel({ plot: [798, 307, 1094, 528], xMax: 69500, xTicks: longTimeTicks, yRange: [-0.631, 0.623], yTicks: torqueTicksC, digits: 1,
  title: 'Torques -vs- Time', titleGap: 8.5, yTitle: 'Torques', yTitleX: 752.5, xTitleY: 552, yPad: 4, tickSize: 13,
  legend: smallLegend('ur', [3, 4], TQ), datasets: lineSets(torquesC_Tx, torquesC_Ty, torquesC_Tz, TQ) });

// row 3 : predicted probability
const probTitle = 'Pedicted Probability of Success / Failure';
panel({ plot: [49, 597, 340, 816], xMax: 16900, xTicks: shortTimeTicks, yRange: [0, 1], yTicks: probTicks, digits: 1,
  title: probTitle, titleGap: 8, yTitle: 'Probability', yTitleX: 17, xTitleY: 841, yPad: 6, tickSize: 12.5,
  legend: probLegend([3]), datasets: probSets(probA_pass, 8566, 16900, 430) });
panel({ plot: [425, 597, 716, 816], xMax: 69500, xTicks: longTimeTicks, yRange: [0, 1], yTicks: probTicks, digits: 1,
  title: probTitle, titleGap: 7.5, yTitle: 'Probability', yTitleX: 393, xTitleY: 841.5, yPad: 5, tickSize: 12.5,
  legend: probLegend([4]), datasets: probSets(probB_pass, 8549, 69500, 560) });
panel({ plot: [806, 597, 1098, 813], xMax: 69500, xTicks: longTimeTicks, yRange: [0, 1], yTicks: probTicks, digits: 1,
  title: probTitle, titleGap: 7.5, yTitle: 'Probability', yTitleX: 773.5, xTitleY: 837.5, yPad: 5, tickSize: 12.5,
  legend: probLegend([9]), datasets: probSets(probC_pass, 8406, 69500, 1600) });

// D : histogram of episode makespans
(function () {
  const L = 108, T = 945, R = 1054, B = 1407;
  const canvas = addCanvas(0, 900, 1087, 552);
  decorCfg.set(canvas, {
    frameColor: '#222', title: 'Episode Makespans for Reactive and Preemptive Experiments', titleSize: 26.5, titleGap: 15,
    notes: [
      { text: 'Reactive: 101.6 \u00b1 (\u03c3 = 105.5)', x: 228, y: 28.6, f: 'bold 24.5px "Liberation Sans"' },
      { text: 'Preemptive:   83.4 \u00b1 (\u03c3 = 69.7)', x: 209.3, y: 25.5, f: 'bold 24.5px "Liberation Sans"' }
    ],
    legend: { anchor: 'ur', inset: [12, 11], size: 21, hLen: 43, gap: 19, padX: 8, padY: 4, rowH: 31, patchH: 15, radius: 4,
      items: [{ label: 'React', color: BLUE, patch: true }, { label: 'Preempt', color: ORANGE, patch: true }] }
  });
  new Chart(canvas, {
    type: 'bar',
    data: {
      datasets: [
        { label: 'React', data: binCenters.map((c, i) => ({ x: c, y: reactCounts[i] })), backgroundColor: BLUE },
        { label: 'Preempt', data: binCenters.map((c, i) => ({ x: c, y: preemptCounts[i] })), backgroundColor: ORANGE }
      ]
    },
    options: {
      responsive: false, animation: false, devicePixelRatio: 1,
      categoryPercentage: 0.8, barPercentage: 1.0,
      layout: { padding: { left: 0, top: T - 900, right: 1087 - R, bottom: 0 } },
      plugins: { legend: { display: false }, tooltip: { enabled: false } },
      scales: {
        x: {
          type: 'linear', min: -7.6, max: 546.9, bounds: 'data', offset: false,
          afterBuildTicks: s => { s.ticks = makespanTicks.map(v => ({ value: v })); },
          afterFit: s => { s.height = 1452 - B; },
          ticks: { autoSkip: false, maxRotation: 0, padding: 4, font: { size: 11 }, color: '#111', callback: v => String(v) },
          grid: { offset: false, drawOnChartArea: false, drawTicks: true, tickLength: 4, color: '#222' }, border: { display: false },
          title: { display: true, text: 'Episode Makespan [s]', font: { size: 21 }, color: '#111', padding: { top: 0, bottom: 0 } }
        },
        y: {
          type: 'linear', min: 0, max: 51.45, bounds: 'data',
          afterBuildTicks: s => { s.ticks = countTicks.map(v => ({ value: v })); },
          afterFit: s => { s.width = L; },
          ticks: { autoSkip: false, padding: 4, font: { size: 11 }, color: '#111', callback: v => String(v) },
          grid: { drawOnChartArea: false, drawTicks: true, tickLength: 4, color: '#222' }, border: { display: false },
          title: { display: true, text: 'Count [Episode]', font: { size: 21 }, color: '#111', padding: { top: 54.4, bottom: 0 } }
        }
      }
    }
  });
})();
</script>
</body>
</html>
